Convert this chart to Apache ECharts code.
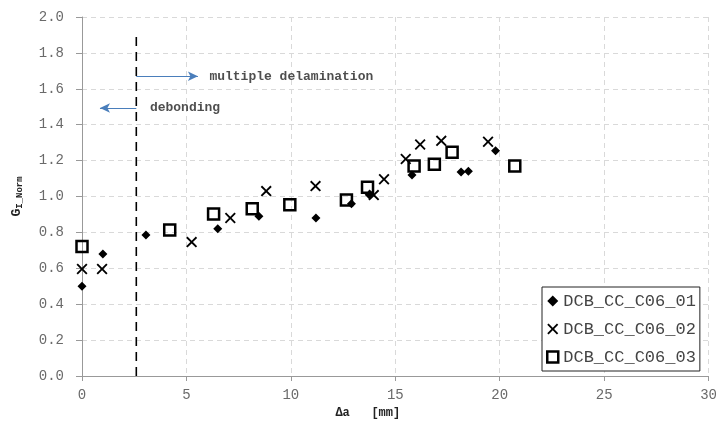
<!DOCTYPE html>
<html><head><meta charset="utf-8">
<script src="https://cdn.jsdelivr.net/npm/echarts@6/dist/echarts.min.js"></script>
<style>html,body{margin:0;padding:0;background:#fff}#c{width:720px;height:427px}</style>
</head><body><div id="c"></div>
<script>
// Data
const s1x = [0, 1.0, 3.06, 6.5, 8.47, 11.2, 12.9, 13.75, 15.8, 18.15, 18.5, 19.8];
const s1y = [0.50, 0.68, 0.785, 0.82, 0.89, 0.88, 0.96, 1.01, 1.12, 1.137, 1.14, 1.255];
const s2x = [0, 0.96, 5.25, 7.1, 8.82, 11.18, 13.97, 14.46, 15.5, 16.19, 17.2, 19.44];
const s2y = [0.596, 0.596, 0.746, 0.88, 1.03, 1.058, 1.008, 1.096, 1.209, 1.29, 1.31, 1.305];
const s3x = [0, 4.2, 6.3, 8.15, 9.95, 12.66, 13.67, 15.9, 16.87, 17.72, 20.72];
const s3y = [0.722, 0.813, 0.902, 0.932, 0.954, 0.98, 1.051, 1.17, 1.18, 1.246, 1.17];
const seriesNames = ['DCB_CC_C06_01', 'DCB_CC_C06_02', 'DCB_CC_C06_03'];
const dividerX = 2.6;
const dividerY = [0, 1.92];
const arrowMulti = [[2.6, 1.67], [5.55, 1.67]];
const arrowDebond = [[2.6, 1.493], [0.86, 1.493]];
const annoMulti = [6.1, 1.67, 'multiple delamination'];
const annoDebond = [3.25, 1.493, 'debonding'];

const zip = (xs, ys) => xs.map((x, i) => [x, ys[i]]);
const mono = '"Liberation Mono", "DejaVu Sans Mono", monospace';
const xPath = 'path://M0,1.2L1.2,0L5,3.8L8.8,0L10,1.2L6.2,5L10,8.8L8.8,10L5,6.2L1.2,10L0,8.8L3.8,5Z';

const chart = echarts.init(document.getElementById('c'));
chart.setOption({
  animation: false,
  backgroundColor: '#fff',
  grid: { left: 82, right: 11, top: 17, bottom: 51 },
  xAxis: {
    type: 'value', min: 0, max: 30, interval: 5,
    name: 'Δa   [mm]', nameLocation: 'middle', nameGap: 28,
    nameTextStyle: { fontFamily: mono, fontWeight: 'bold', fontSize: 12, color: '#222', padding: [0, 55, 0, 0] },
    axisLine: { lineStyle: { color: '#999' } },
    axisTick: { show: true, length: 5, lineStyle: { color: '#999' } },
    axisLabel: { fontFamily: mono, fontSize: 14, color: '#6a6a6a', margin: 12 },
    splitLine: { show: true, lineStyle: { type: [5, 4], color: '#d9d9d9' } }
  },
  yAxis: {
    type: 'value', min: 0, max: 2, interval: 0.2,
    name: '{g|G}{s|I_Norm}', nameLocation: 'middle', nameGap: 58,
    nameTextStyle: { rich: {
      g: { fontFamily: mono, fontWeight: 'bold', fontSize: 13, color: '#222' },
      s: { fontFamily: mono, fontWeight: 'bold', fontSize: 9, color: '#222', verticalAlign: 'bottom', padding: [6, 0, 0, 0] }
    } },
    axisLine: { show: true, lineStyle: { color: '#999' } },
    axisTick: { show: true, length: 6, lineStyle: { color: '#999' } },
    axisLabel: { fontFamily: mono, fontSize: 14, color: '#6a6a6a', margin: 18, formatter: v => v.toFixed(1) },
    splitLine: { show: true, lineStyle: { type: [5, 4], color: '#d9d9d9' } }
  },
  legend: {
    orient: 'vertical', left: 542, top: 287, width: 170,
    padding: [5, 4, 5, 4], itemGap: 10, itemWidth: 11, itemHeight: 11,
    borderColor: '#222', borderWidth: 1, backgroundColor: '#fff',
    textStyle: { fontFamily: mono, fontSize: 17, lineHeight: 18, color: '#444' },
    data: [
      { name: seriesNames[0], icon: 'diamond', itemStyle: { color: '#000', opacity: 1 } },
      { name: seriesNames[1], icon: xPath, itemStyle: { color: '#000', opacity: 1 } },
      { name: seriesNames[2], icon: 'rect', itemStyle: { color: '#fff', borderColor: '#000', borderWidth: 2.5, opacity: 1 } }
    ]
  },
  series: [
    { name: 'divider', type: 'line', data: [[dividerX, dividerY[0]], [dividerX, dividerY[1]]], symbol: 'none',
      lineStyle: { color: '#000', width: 1.6, type: [9, 6] }, z: 1, silent: true },
    { name: 'arrows', type: 'line', data: [], silent: true,
      markLine: { silent: true, symbol: ['none', 'arrow'], symbolSize: [7, 10], label: { show: false },
        lineStyle: { color: '#4a7ebb', width: 1.2, type: 'solid' },
        data: [
          [{ coord: arrowMulti[0] }, { coord: arrowMulti[1] }],
          [{ coord: arrowDebond[0] }, { coord: arrowDebond[1] }]
        ] } },
    { name: 'annotations', type: 'scatter', symbolSize: 0, silent: true,
      data: [annoMulti, annoDebond],
      label: { show: true, position: 'right', distance: 0, formatter: p => p.data[2],
        fontFamily: mono, fontWeight: 'bold', fontSize: 13, color: '#222' } },
    { name: seriesNames[0], type: 'scatter', data: zip(s1x, s1y), symbol: 'diamond', symbolSize: 9,
      itemStyle: { color: '#000', opacity: 1 }, z: 4 },
    { name: seriesNames[1], type: 'scatter', data: zip(s2x, s2y), symbol: xPath, symbolSize: 11,
      itemStyle: { color: '#000', opacity: 1 }, z: 3 },
    { name: seriesNames[2], type: 'scatter', data: zip(s3x, s3y), symbol: 'rect', symbolSize: 11,
      itemStyle: { color: 'rgba(255,255,255,0)', borderColor: '#000', borderWidth: 2.5, opacity: 1 }, z: 5 }
  ]
});
</script></body></html>
